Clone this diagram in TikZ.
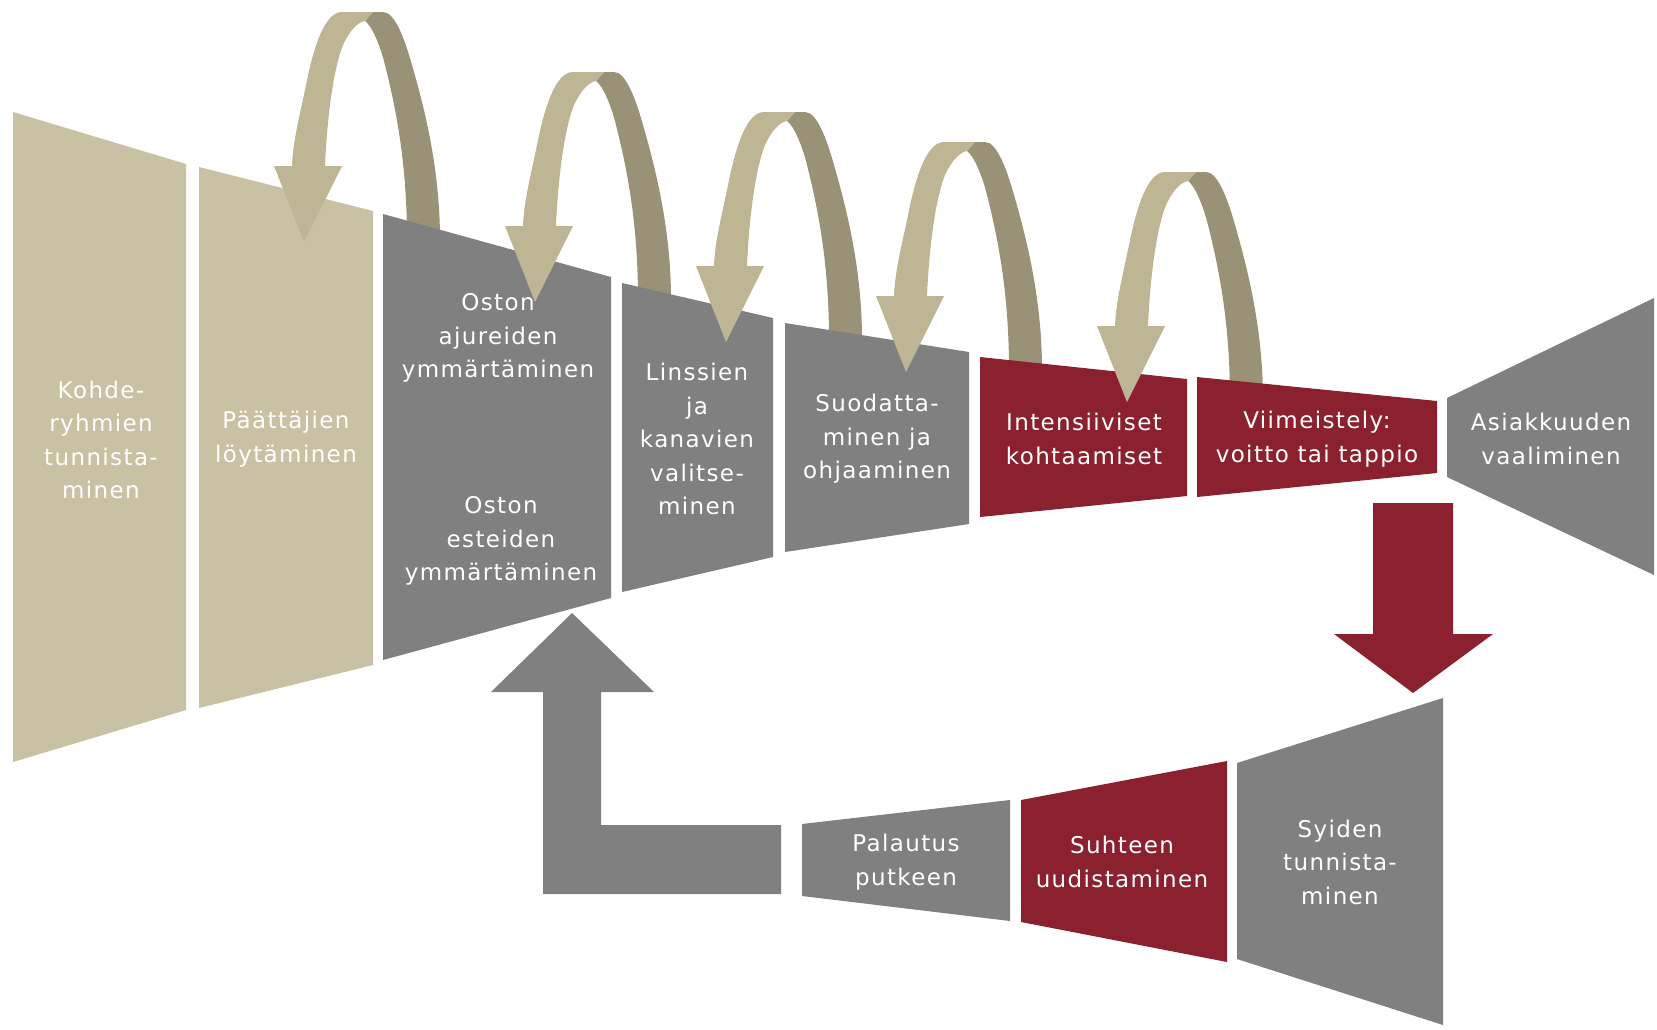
\documentclass[tikz,border=0pt]{standalone}
\usepackage{fontspec}
\setmainfont{DejaVu Sans}[LetterSpace=6]
\usetikzlibrary{positioning}
\definecolor{sand}{RGB}{201,193,163}
\definecolor{loopfront}{RGB}{189,181,148}
\definecolor{loopback}{RGB}{153,146,118}
\definecolor{stepgrey}{RGB}{128,128,128}
\definecolor{wine}{RGB}{139,33,47}

\begin{document}
\begin{tikzpicture}[x=1pt, y=-1pt,
                    txt/.style = {text=white, align=center, font=\fontsize{23}{33.5}\selectfont},
                    backpart/.style = {insert path={(373,12) -- (383,12) .. controls (395,12) and (405,40) .. (412,65)
                        .. controls (425,110) and (440,170) .. (440,240) -- (407,240)
                        .. controls (407,160) and (395,105) .. (385,65) .. controls (380,45) and (372,26) .. (365,21) -- cycle}},
                    frontpart/.style = {insert path={(292,166) -- (274,166) -- (304,242) -- (342,166) -- (325,166)
                        .. controls (327,120) and (333,70) .. (343,45) .. controls (350,30) and (358,22) .. (365,21)
                        -- (373,12) -- (342,12) .. controls (325,12) and (314,45) .. (306,85)
                        .. controls (300,115) and (293,140) .. (292,166) -- cycle}}]
\useasboundingbox (0,0) rectangle (1657,1029);
% loop backs, the steps hide their feet
\fill[loopback, backpart];
\fill[loopback, shift={(231,60)}, backpart];
\fill[loopback, shift={(422,100)}, backpart];
\fill[loopback, shift={(602,130)}, backpart];
\fill[loopback, shift={(823,160)}, backpart];
% upper row of steps
\fill[sand] (13,112) -- (186,164) -- (186,710) -- (13,762) -- cycle;
\fill[sand] (199,167) -- (373,211) -- (373,665) -- (199,708) -- cycle;
\fill[stepgrey] (383,214) -- (611,277) -- (611,598) -- (383,660) -- cycle;
\fill[stepgrey] (622,283) -- (773,318) -- (773,557) -- (622,592) -- cycle;
\fill[stepgrey] (785,323) -- (969,352) -- (969,524) -- (785,552) -- cycle;
\fill[wine] (980,357) -- (1187,379) -- (1187,496) -- (980,517) -- cycle;
\fill[wine] (1197,377) -- (1437,401) -- (1437,473) -- (1197,497) -- cycle;
\fill[stepgrey] (1447,398) -- (1654,298) -- (1654,575) -- (1447,477) -- cycle;
% loop fronts with heads
\fill[loopfront, frontpart];
\fill[loopfront, shift={(231,60)}, frontpart];
\fill[loopfront, shift={(422,100)}, frontpart];
\fill[loopfront, shift={(602,130)}, frontpart];
\fill[loopfront, shift={(823,160)}, frontpart];
% lower row
\fill[stepgrey] (1237,763) -- (1443,698) -- (1443,1025) -- (1237,959) -- cycle;
\fill[wine] (1021,800) -- (1227,761) -- (1227,962) -- (1021,922) -- cycle;
\fill[stepgrey] (802,824) -- (1010,800) -- (1010,921) -- (802,896) -- cycle;
% block arrows
\fill[wine] (1373,503) -- (1453,503) -- (1453,634) -- (1493,634) -- (1413,693) -- (1334,634) -- (1373,634) -- cycle;
\fill[stepgrey] (543,692) -- (543,894) -- (781,894) -- (781,825) -- (601,825) -- (601,692) -- (654,692) -- (572,613) -- (491,692) -- cycle;

\node[txt] (kohde) at (101,440) {Kohde-\\ryhmien\\tunnista-\\minen};
\node[txt] (paattajat) at (286,439) {Päättäjien\\löytäminen};
\node[txt] (ajurit) at (498,338) {Oston\\ajureiden\\ymmärtäminen};
\node[txt] (esteet) at (501,541) {Oston\\esteiden\\ymmärtäminen};
\node[txt] (linssit) at (697,439) {Linssien\\ja\\kanavien\\valitse-\\minen};
\node[txt] (suodatus) at (877,439) {Suodatta-\\minen ja\\ohjaaminen};
\node[txt] (kohtaamiset) at (1084,439) {Intensiiviset\\kohtaamiset};
\node[txt] (viimeistely) at (1317,439) {Viimeistely:\\voitto tai tappio};
\node[txt] (asiakkuus) at (1551,439) {Asiakkuuden\\vaaliminen};
\node[txt] (palautus) at (906,862) {Palautus\\putkeen};
\node[txt] (suhde) at (1122,862) {Suhteen\\uudistaminen};
\node[txt] (syyt) at (1340,862) {Syiden\\tunnista-\\minen};
\end{tikzpicture}
\end{document}
